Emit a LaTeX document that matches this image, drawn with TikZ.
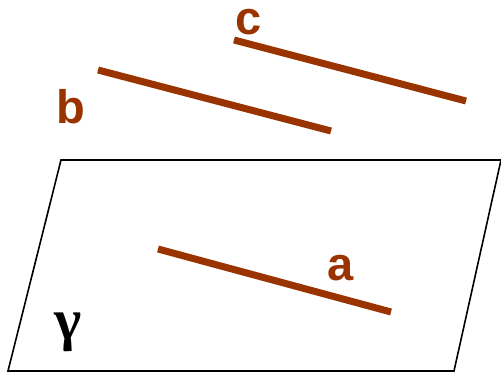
\documentclass[tikz,border=0pt]{standalone}
\usepackage{fontspec}
\setmainfont{Liberation Sans}
\newfontfamily\serifbold{Liberation Serif}
\definecolor{brn}{RGB}{153,51,0}
\tikzset{
  seg/.style={draw=brn, line width=7pt},
  lbl/.style={text=brn, font=\fontsize{47}{47}\selectfont\bfseries, inner sep=0pt},
  plane/.style={draw=black, line width=1.6pt, line join=miter}
}
\begin{document}
\begin{tikzpicture}[x=1pt,y=-1pt]
\useasboundingbox (0,0) rectangle (501,374);
\draw[plane] (61,160) -- (501,160) -- (454,371) -- (8,371) -- cycle;
\coordinate (b1) at (98,70);
\coordinate (b2) at (331,131);
\coordinate (c1) at (234,40);
\coordinate (c2) at (466,101);
\coordinate (a1) at (158,249);
\coordinate (a2) at (391,312);
\draw[seg] (b1) -- (b2);
\draw[seg] (c1) -- (c2);
\draw[seg] (a1) -- (a2);
\node[lbl, anchor=base] (lb) at (71,124) {b};
\node[lbl, anchor=base] (lc) at (249,35) {c};
\node[lbl, anchor=base] (la) at (341,280) {a};
\node[inner sep=0pt, font=\fontsize{58}{58}\selectfont\serifbold\bfseries] (lg) at (68,332) {γ};
\end{tikzpicture}
\end{document}
